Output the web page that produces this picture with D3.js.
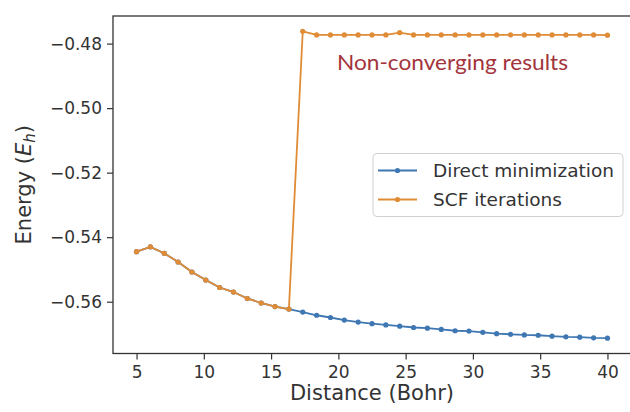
<!DOCTYPE html>
<html>
<head>
<meta charset="utf-8">
<script src="https://cdn.jsdelivr.net/npm/d3@7"></script>
<style>
  body { margin: 0; background: #fff; }
  svg { display: block; font-family: "DejaVu Sans", sans-serif; }
</style>
</head>
<body>
<svg id="chart" width="630" height="412"></svg>
<script>
// distances (Bohr): 35 evenly spaced points from 5 to 40
var distance = d3.range(35).map(function (i) { return 5 + i * 35 / 34; });

var directMin = [
    -0.5445, -0.5430, -0.5450, -0.5477, -0.5508, -0.5533, -0.5556, -0.5570,
    -0.5590, -0.5604, -0.5615, -0.5623, -0.5632, -0.5642, -0.5649, -0.5657,
    -0.5663, -0.5668, -0.5672, -0.5676, -0.5680, -0.5682, -0.5686, -0.5690,
    -0.5691, -0.5695, -0.5699, -0.5701, -0.5703, -0.5704, -0.5707, -0.5709,
    -0.5710, -0.5712, -0.5713
];

var scfIter = [
    -0.5445, -0.5430, -0.5450, -0.5477, -0.5508, -0.5533, -0.5556, -0.5570,
    -0.5590, -0.5604, -0.5615, -0.5623, -0.4762, -0.4773, -0.4773, -0.4773,
    -0.4773, -0.4773, -0.4773, -0.4766, -0.4773, -0.4773, -0.4773, -0.4773,
    -0.4773, -0.4773, -0.4773, -0.4773, -0.4773, -0.4773, -0.4773, -0.4773,
    -0.4773, -0.4773, -0.4774
];

var xTicks = [5, 10, 15, 20, 25, 30, 35, 40];
var yTicks = [-0.56, -0.54, -0.52, -0.50, -0.48];

var series = [
    { name: "Direct minimization", values: directMin, color: "#3f77b3" },
    { name: "SCF iterations", values: scfIter, color: "#e08c36" }
];

var svg = d3.select("#chart");
var plot = { left: 113, right: 631, top: 16, bottom: 353.5 };

// matplotlib style 5% margins
function padded(ext) {
    var m = (ext[1] - ext[0]) * 0.05;
    return [ext[0] - m, ext[1] + m];
}

var x = d3.scaleLinear()
    .domain(padded(d3.extent(distance)))
    .range([plot.left, plot.right]);

var y = d3.scaleLinear()
    .domain(padded(d3.extent(directMin.concat(scfIter))))
    .range([plot.bottom, plot.top]);

var fmtMinus = function (d) { return d3.format(".2f")(d).replace("-", "\u2212"); };

// axes
var xAxis = svg.append("g")
    .attr("transform", "translate(0," + plot.bottom + ")")
    .call(d3.axisBottom(x).tickValues(xTicks).tickSize(6).tickPadding(6).tickFormat(d3.format("d")));

var yAxis = svg.append("g")
    .attr("transform", "translate(" + plot.left + ",0)")
    .call(d3.axisLeft(y).tickValues(yTicks).tickSize(6).tickPadding(5).tickFormat(fmtMinus));

[xAxis, yAxis].forEach(function (a) {
    a.select(".domain").remove();
    a.selectAll(".tick line").attr("stroke", "#333").attr("stroke-width", 1.2);
    a.selectAll(".tick text")
        .attr("fill", "#333")
        .style("font-family", "DejaVu Sans")
        .style("font-size", "17px");
});

// frame
svg.append("rect")
    .attr("x", plot.left)
    .attr("y", plot.top)
    .attr("width", plot.right - plot.left)
    .attr("height", plot.bottom - plot.top)
    .attr("fill", "none")
    .attr("stroke", "#333")
    .attr("stroke-width", 1.3);

var line = d3.line()
    .x(function (d, i) { return x(distance[i]); })
    .y(function (d) { return y(d); });

svg.append("clipPath").attr("id", "clip")
    .append("rect")
    .attr("x", plot.left).attr("y", plot.top)
    .attr("width", plot.right - plot.left).attr("height", plot.bottom - plot.top);

var lines = svg.append("g").attr("clip-path", "url(#clip)");

series.forEach(function (s) {
    var g = lines.append("g");
    g.append("path")
        .datum(s.values)
        .attr("d", line)
        .attr("fill", "none")
        .attr("stroke", s.color)
        .attr("stroke-width", 1.8);
    g.selectAll("circle")
        .data(s.values)
        .enter().append("circle")
        .attr("cx", function (d, i) { return x(distance[i]); })
        .attr("cy", function (d) { return y(d); })
        .attr("r", 2.6)
        .attr("fill", s.color);
});

// annotation
svg.append("text")
    .attr("x", 337)
    .attr("y", 70)
    .attr("fill", "#a3343c")
    .attr("textLength", 231)
    .attr("lengthAdjust", "spacingAndGlyphs")
    .style("font-family", "Lato")
    .style("font-size", "21px")
    .text("Non-converging results");

// legend
var legend = svg.append("g").attr("transform", "translate(373,153.5)");
legend.append("rect")
    .attr("width", 250)
    .attr("height", 63)
    .attr("rx", 4)
    .attr("fill", "#fff")
    .attr("fill-opacity", 0.85)
    .attr("stroke", "#d0d0d0")
    .attr("stroke-width", 1);

series.forEach(function (s, i) {
    var row = legend.append("g").attr("transform", "translate(0," + (17 + i * 29) + ")");
    row.append("line")
        .attr("x1", 5).attr("x2", 44)
        .attr("stroke", s.color)
        .attr("stroke-width", 1.8);
    row.append("circle")
        .attr("cx", 24.5).attr("r", 2.6)
        .attr("fill", s.color);
    row.append("text")
        .attr("x", 60)
        .attr("dy", "0.36em")
        .attr("fill", "#333")
        .style("font-size", "18.5px")
        .text(s.name);
});

// axis labels
svg.append("text")
    .attr("x", (plot.left + plot.right) / 2)
    .attr("y", 400)
    .attr("text-anchor", "middle")
    .attr("fill", "#333")
    .style("font-size", "21px")
    .text("Distance (Bohr)");

var yl = svg.append("text")
    .attr("transform", "translate(31," + ((plot.top + plot.bottom) / 2) + ") rotate(-90)")
    .attr("text-anchor", "middle")
    .attr("fill", "#333")
    .style("font-size", "21px");
yl.append("tspan").text("Energy (");
yl.append("tspan").style("font-style", "italic").text("E");
yl.append("tspan").style("font-style", "italic").style("font-size", "15px").attr("dy", 4).text("h");
yl.append("tspan").attr("dy", -4).text(")");
</script>
</body>
</html>
